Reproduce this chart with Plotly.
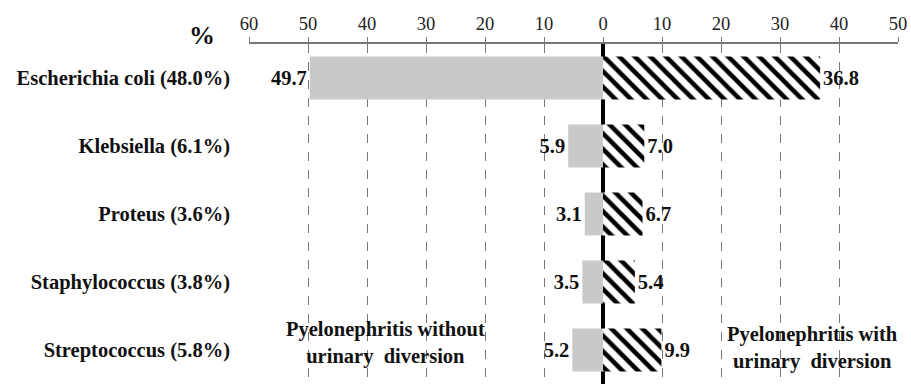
import plotly.graph_objects as go

categories = ["Escherichia coli (48.0%)", "Klebsiella (6.1%)", "Proteus (3.6%)",
              "Staphylococcus (3.8%)", "Streptococcus (5.8%)"]
without_div = [49.7, 5.9, 3.1, 3.5, 5.2]
with_div = [36.8, 7.0, 6.7, 5.4, 9.9]
tick_vals = [-60, -50, -40, -30, -20, -10, 0, 10, 20, 30, 40, 50]
tick_text = ["60", "50", "40", "30", "20", "10", "0", "10", "20", "30", "40", "50"]

FONT = "Liberation Serif"
BOLD = dict(family=FONT, size=20.5, color="#111", weight="bold")

fig = go.Figure()
fig.add_trace(go.Bar(
    y=categories, x=[-v for v in without_div], orientation="h",
    marker=dict(color="#c9c9c9", line=dict(width=0)),
    text=[f"{v:.1f}" for v in without_div], textposition="outside",
    textfont=BOLD, cliponaxis=False, name="without",
))
fig.add_trace(go.Bar(
    y=categories, x=with_div, orientation="h",
    marker=dict(color="white", line=dict(width=0),
                pattern=dict(shape="\\", fgcolor="black", bgcolor="white",
                             size=11, solidity=0.42, fgopacity=1)),
    text=[f"{v:.1f}" for v in with_div], textposition="outside",
    textfont=BOLD, cliponaxis=False, name="with",
))

# white boxes behind the group labels (hide grid lines)
fig.add_shape(type="rect", xref="x", yref="paper", x0=-56.5, x1=-13, y0=-0.02, y1=0.215,
              fillcolor="white", line=dict(width=0), layer="below")
fig.add_shape(type="rect", xref="x", yref="paper", x0=16, x1=53, y0=-0.02, y1=0.215,
              fillcolor="white", line=dict(width=0), layer="below")

fig.add_annotation(x=-36.9, y=0.12, xref="x", yref="paper", yanchor="middle",
                   text="Pyelonephritis without<br>urinary  diversion", showarrow=False,
                   font=BOLD)
fig.add_annotation(x=35.5, y=0.105, xref="x", yref="paper", yanchor="middle",
                   text="Pyelonephritis with<br>urinary  diversion", showarrow=False,
                   font=BOLD)
fig.add_annotation(x=-0.072, y=1.025, xref="paper", yref="paper", xanchor="center",
                   yanchor="middle", text="%", showarrow=False,
                   font=dict(family=FONT, size=26, color="#111", weight="bold"))

fig.update_layout(
    width=911, height=384,
    margin=dict(l=249, r=13, t=44, b=0),
    paper_bgcolor="white", plot_bgcolor="white",
    barmode="overlay", bargap=0.37, showlegend=False,
    xaxis=dict(side="top", range=[-60, 50], tickvals=tick_vals, ticktext=tick_text,
               showgrid=True, gridcolor="#777", griddash="dash", gridwidth=1,
               showline=True, linecolor="#777", linewidth=1.5,
               ticks="outside", ticklen=5, tickcolor="#777",
               tickfont=dict(family=FONT, size=18.5, color="#222"),
               zeroline=True, zerolinecolor="black", zerolinewidth=3.5),
    yaxis=dict(autorange="reversed", showgrid=False, showline=False, ticks="",
               ticklabelstandoff=18, tickfont=BOLD),
)

fig.write_html("out.html")
